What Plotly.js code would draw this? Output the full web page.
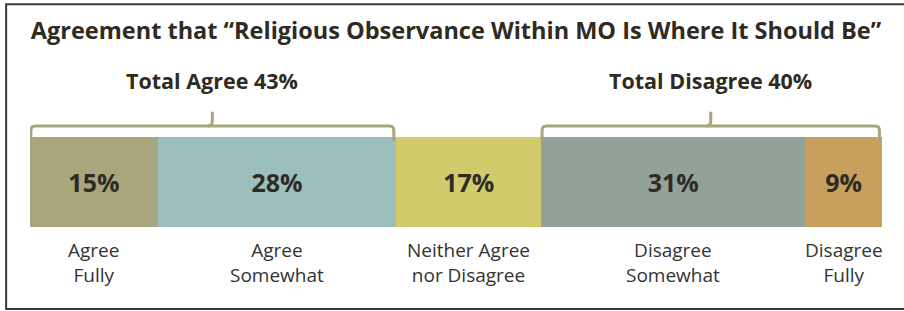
<!DOCTYPE html>
<html><head><meta charset="utf-8">
<script src="https://cdn.plot.ly/plotly-3.0.1.min.js"></script>
<style>html,body{margin:0;padding:0;background:#fff}#chart{width:904px;height:311px}</style>
</head><body><div id="chart"></div>
<script>
const categories = ['Agree<br>Fully', 'Agree<br>Somewhat', 'Neither Agree<br>nor Disagree', 'Disagree<br>Somewhat', 'Disagree<br>Fully'];
const values = [15, 28, 17, 31, 9];
const groupNames = ['Total Agree', 'Total Disagree'];
const groupMembers = [[0, 1], [3, 4]];
const titleText = 'Agreement that \u201cReligious Observance Within MO Is Where It Should Be\u201d';

const colors = ['#A9A57C', '#9CBEBD', '#D2CB6C', '#93A299', '#C89F5D'];
const dark = '#2f2a22';
const braceColor = '#A8A57E';
const FONT = 'Open Sans, sans-serif';

const starts = [];
let acc = 0;
values.forEach(v => { starts.push(acc); acc += v; });

const traces = values.map((v, i) => ({
  type: 'bar', orientation: 'h', y: [0], x: [v], name: categories[i],
  marker: {color: colors[i], line: {width: 0}},
  text: [v + '%'], textposition: 'inside', insidetextanchor: 'middle',
  textfont: {family: FONT, size: 25, color: dark, weight: 'bold'},
  hoverinfo: 'skip', showlegend: false
}));

const annotations = [];
values.forEach((v, i) => {
  annotations.push({
    x: starts[i] + v / 2, xref: 'x', y: -0.09, yref: 'paper', yanchor: 'top',
    text: categories[i], showarrow: false, align: 'center',
    font: {family: 'Open Sans, sans-serif', size: 19, color: '#333'}
  });
});

const shapes = [];
const yLine = 1.122, yEnd = 0.956, yTop = 1.28, ry = 0.05, rx = 0.5;
groupMembers.forEach((m, g) => {
  const x0 = starts[m[0]] + 0.1;
  const x1 = starts[m[m.length - 1]] + values[m[m.length - 1]] - 0.3;
  const total = m.reduce((s, k) => s + values[k], 0);
  const xm = (x0 + x1) / 2;
  shapes.push({
    type: 'path', xref: 'x', yref: 'paper',
    path: `M ${x0},${yEnd} L ${x0},${yLine - ry} Q ${x0},${yLine} ${x0 + rx},${yLine} L ${x1 - rx},${yLine} Q ${x1},${yLine} ${x1},${yLine - ry} L ${x1},${yEnd}`,
    line: {color: braceColor, width: 3}
  });
  shapes.push({
    type: 'path', xref: 'x', yref: 'paper',
    path: `M ${xm - rx},${yLine} Q ${xm},${yLine} ${xm},${yLine + ry} L ${xm},${yTop}`,
    line: {color: braceColor, width: 3}
  });
  annotations.push({
    x: xm, xref: 'x', y: 1.633, yref: 'paper', yanchor: 'middle',
    text: groupNames[g] + ' ' + total + '%', showarrow: false,
    font: {family: FONT, size: 21.5, color: dark, weight: 'bold'}
  });
});

shapes.push({
  type: 'rect', xref: 'paper', yref: 'paper',
  x0: -0.028, x1: 1.06, y0: -0.911, y1: 2.475,
  line: {color: '#3a3a3a', width: 2}, fillcolor: 'rgba(0,0,0,0)'
});

const layout = {
  width: 904, height: 311,
  margin: {l: 30, r: 22, t: 137, b: 84},
  paper_bgcolor: '#fff', plot_bgcolor: '#fff',
  barmode: 'stack', bargap: 0,
  title: {text: titleText, x: 0.5, xref: 'paper', xanchor: 'center', y: 1 - 31 / 311, yref: 'container', yanchor: 'middle',
    font: {family: FONT, size: 23.5, color: dark, weight: 'bold'}},
  xaxis: {range: [0, 100], visible: false, fixedrange: true},
  yaxis: {range: [-0.5, 0.5], visible: false, fixedrange: true},
  shapes: shapes, annotations: annotations, showlegend: false
};

Plotly.newPlot('chart', traces, layout, {displayModeBar: false, staticPlot: true});
</script>
</body></html>
